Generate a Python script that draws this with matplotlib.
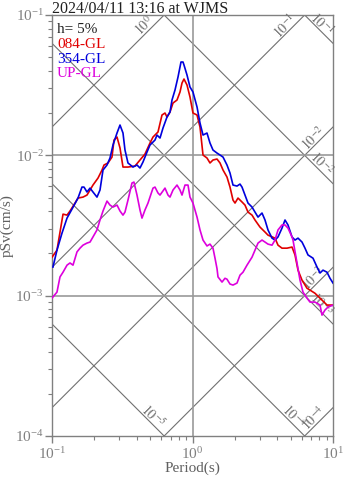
import numpy as np
import matplotlib
matplotlib.use("Agg")
import matplotlib.pyplot as plt
from matplotlib.ticker import LogLocator, NullFormatter

plt.rcParams['font.family'] = 'serif'
plt.rcParams['font.serif'] = ['Liberation Serif', 'DejaVu Serif']
plt.rcParams['mathtext.fontset'] = 'stix'

# pseudo velocity response, h = 5%
period_ew = [0.100, 0.1085, 0.1198, 0.1279, 0.1343, 0.1458, 0.1531, 0.1662, 0.1774, 0.1865,
             0.1957, 0.2126, 0.2270, 0.2345, 0.2503, 0.2673, 0.2762, 0.2902, 0.3048, 0.3201,
             0.3474, 0.3896, 0.4229, 0.4590, 0.4982, 0.5234, 0.5680, 0.6066, 0.6371, 0.6584,
             0.6916, 0.7265, 0.7757, 0.8148, 0.8420, 0.8699, 0.9139, 0.9598, 1.008, 1.077,
             1.131, 1.188, 1.268, 1.332, 1.399, 1.494, 1.570, 1.649, 1.760, 1.849,
             1.942, 2.007, 2.108, 2.251, 2.364, 2.483, 2.652, 2.785, 3.023, 3.281,
             3.446, 3.866, 4.060, 4.335, 4.706, 5.108, 5.365, 5.636, 6.018, 6.531,
             7.446, 8.350, 9.064, 10.0]
psv_ew = [0.00188, 0.00211, 0.00381, 0.00375, 0.00401, 0.00457, 0.00496, 0.00504, 0.00521, 0.00566,
          0.00614, 0.00689, 0.00786, 0.00853, 0.00882, 0.00972, 0.01285, 0.01350, 0.01128, 0.00825,
          0.00825, 0.00839, 0.00926, 0.01021, 0.01224, 0.01350, 0.01466, 0.01938, 0.02002, 0.01875,
          0.02035, 0.02359, 0.02478, 0.02826, 0.03275, 0.03497, 0.03170, 0.02603, 0.02002, 0.01938,
          0.01591, 0.01005, 0.00957, 0.00882, 0.00926, 0.00941, 0.00882, 0.00786, 0.00700, 0.00594,
          0.00480, 0.00457, 0.00496, 0.00465, 0.00442, 0.00394, 0.00375, 0.00346, 0.00308, 0.00284,
          0.00270, 0.00257, 0.00229, 0.00218, 0.00218, 0.00222, 0.00195, 0.00152, 0.00129, 0.00113,
          0.00104, 0.000930, 0.000857, 0.000857]

period_ns = [0.1016, 0.1085, 0.1178, 0.1279, 0.1388, 0.1531, 0.1634, 0.1690, 0.1774, 0.1865,
             0.1957, 0.2090, 0.2196, 0.2307, 0.2463, 0.2587, 0.2717, 0.2902, 0.3048, 0.3201,
             0.3307, 0.3474, 0.3771, 0.4027, 0.4229, 0.4442, 0.4744, 0.4982, 0.5408, 0.5589,
             0.5871, 0.6166, 0.6584, 0.6916, 0.7147, 0.7507, 0.7886, 0.8281, 0.8558, 0.8699,
             0.9139, 0.9598, 1.008, 1.077, 1.131, 1.188, 1.268, 1.332, 1.399, 1.494,
             1.570, 1.649, 1.760, 1.849, 1.942, 2.074, 2.178, 2.251, 2.364, 2.483,
             2.652, 2.785, 2.926, 3.124, 3.281, 3.446, 3.680, 3.866, 4.060, 4.335,
             4.554, 4.783, 5.108, 5.365, 5.636, 6.018, 6.320, 6.639, 7.206, 7.694,
             8.081, 8.488, 9.064, 9.521, 10.0]
psv_ns = [0.00160, 0.00211, 0.00279, 0.00357, 0.00414, 0.00496, 0.00594, 0.00594, 0.00548, 0.00584,
          0.00548, 0.00504, 0.00566, 0.00786, 0.00853, 0.00957, 0.01184, 0.01442, 0.01644, 0.01442,
          0.01091, 0.00882, 0.00825, 0.00853, 0.00812, 0.00896, 0.01055, 0.01184, 0.01285, 0.01395,
          0.01328, 0.01565, 0.01875, 0.02035, 0.02478, 0.02920, 0.03614, 0.04624, 0.04624, 0.04400,
          0.03736, 0.03068, 0.02826, 0.02210, 0.01699, 0.01395, 0.01442, 0.01224, 0.01091, 0.01038,
          0.01005, 0.00972, 0.00853, 0.00748, 0.00614, 0.00604, 0.00624, 0.00594, 0.00521, 0.00457,
          0.00428, 0.00394, 0.00363, 0.00388, 0.00346, 0.00294, 0.00257, 0.00249, 0.00262, 0.00303,
          0.00346, 0.00319, 0.00262, 0.00249, 0.00257, 0.00241, 0.00218, 0.00195, 0.00185, 0.00160,
          0.00145, 0.00152, 0.00147, 0.00133, 0.00123]

period_ud = [0.100, 0.1085, 0.1140, 0.1198, 0.1279, 0.1343, 0.1411, 0.1506, 0.1582, 0.1662,
             0.1774, 0.1865, 0.1957, 0.2090, 0.2196, 0.2307, 0.2463, 0.2587, 0.2717, 0.2902,
             0.3048, 0.3201, 0.3307, 0.3474, 0.3709, 0.3830, 0.4027, 0.4229, 0.4370, 0.4590,
             0.4822, 0.5234, 0.5408, 0.5680, 0.5871, 0.6371, 0.6693, 0.6916, 0.7265, 0.7757,
             0.8148, 0.8420, 0.8843, 0.9289, 0.9598, 1.008, 1.077, 1.131, 1.188, 1.268,
             1.332, 1.399, 1.446, 1.494, 1.519, 1.622, 1.703, 1.760, 1.849, 1.942,
             2.074, 2.178, 2.288, 2.443, 2.652, 2.785, 2.926, 3.124, 3.281, 3.446,
             3.680, 3.866, 4.060, 4.335, 4.554, 4.783, 5.108, 5.192, 5.544, 5.824,
             6.116, 6.531, 6.860, 7.446, 8.081, 8.350, 8.771, 9.214, 10.0]
psv_ud = [0.000961, 0.00106, 0.00136, 0.00147, 0.00165, 0.00171, 0.00165, 0.00205, 0.00218, 0.00229,
          0.00237, 0.00241, 0.00262, 0.00294, 0.00346, 0.00401, 0.00472, 0.00442, 0.00428, 0.00442,
          0.00401, 0.00375, 0.00394, 0.00480, 0.00635, 0.00645, 0.00521, 0.00408, 0.00357, 0.00408,
          0.00457, 0.00584, 0.00594, 0.00539, 0.00521, 0.00584, 0.00521, 0.00504, 0.00566, 0.00614,
          0.00566, 0.00521, 0.00614, 0.00614, 0.00504, 0.00457, 0.00363, 0.00294, 0.00249, 0.00226,
          0.00233, 0.00218, 0.00185, 0.00156, 0.00136, 0.00125, 0.00133, 0.00131, 0.00121, 0.00119,
          0.00123, 0.00140, 0.00147, 0.00165, 0.00188, 0.00211, 0.00237, 0.00249, 0.00241, 0.00233,
          0.00229, 0.00249, 0.00294, 0.00319, 0.00319, 0.00303, 0.00262, 0.00249, 0.00171, 0.00129,
          0.00106, 0.000961, 0.000900, 0.000900, 0.000857, 0.000727, 0.000790, 0.000829, 0.000857]

components = ["084-GL", "354-GL", "UP-GL"]
colors = ["#e00000", "#0000dd", "#dd00dd"]

# tripartite guide lines: acceleration (cm/s^2) and displacement (cm)
acc_levels = [1e0, 1e-1, 1e-2, 1e-3, 1e-4]
disp_levels = [1e-1, 1e-2, 1e-3, 1e-4, 1e-5]

tmin, tmax = 0.1, 10.0
vmin, vmax = 1e-4, 1e-1
grey = "#808080"

fig = plt.figure(figsize=(3.47, 4.78), dpi=100)
ax = fig.add_axes([52 / 347, 1 - 436 / 478, 281 / 347, 421 / 478])
ax.set_xscale("log")
ax.set_yscale("log")
ax.set_xlim(tmin, tmax)
ax.set_ylim(vmin, vmax)

tt = np.logspace(-1, 1, 50)
for a in acc_levels:
    ax.plot(tt, a * tt / (2 * np.pi), color="#707070", lw=0.8, zorder=1)
    if a * tmax / (2 * np.pi) <= vmax:
        xe, ye = tmax, a * tmax / (2 * np.pi)
    else:
        xe, ye = vmax * 2 * np.pi / a, vmax
    ax.annotate(r"$10^{%d}$" % round(np.log10(a)), xy=(xe, ye), xytext=(-14, -8),
                textcoords="offset points", rotation=45, ha="center", va="center",
                fontsize=10, color="#707070", annotation_clip=False)
for d in disp_levels:
    ax.plot(tt, 2 * np.pi * d / tt, color="#707070", lw=0.8, zorder=1)
    if 2 * np.pi * d / tmax >= vmin:
        xe, ye = tmax, 2 * np.pi * d / tmax
    else:
        xe, ye = 2 * np.pi * d / vmin, vmin
    ax.annotate(r"$10^{%d}$" % round(np.log10(d)), xy=(xe, ye), xytext=(-8, 14),
                textcoords="offset points", rotation=-45, ha="center", va="center",
                fontsize=10, color="#707070", annotation_clip=False)

ax.axvline(1.0, color="#999999", lw=1.2, zorder=1)
for v in [1e-2, 1e-3]:
    ax.axhline(v, color="#999999", lw=1.2, zorder=1)

for per, psv, c in zip([period_ew, period_ns, period_ud], [psv_ew, psv_ns, psv_ud], colors):
    ax.plot(per, psv, color=c, lw=1.2, zorder=3)

ax.xaxis.set_major_locator(LogLocator(base=10, numticks=10))
ax.yaxis.set_major_locator(LogLocator(base=10, numticks=10))
ax.xaxis.set_minor_locator(LogLocator(base=10, subs=np.arange(2, 10), numticks=10))
ax.yaxis.set_minor_locator(LogLocator(base=10, subs=np.arange(2, 10), numticks=10))
ax.xaxis.set_minor_formatter(NullFormatter())
ax.yaxis.set_minor_formatter(NullFormatter())
ax.tick_params(which="major", length=5, width=1, color=grey, labelcolor=grey, labelsize=11)
ax.tick_params(which="minor", length=3, width=0.8, color=grey)
ax.tick_params(axis="x", which="major", pad=2)
ax.tick_params(axis="y", which="major", pad=1)
for s in ax.spines.values():
    s.set_color(grey)
    s.set_linewidth(1.0)

ax.set_xlabel("Period(s)", color="#606060", fontsize=11, labelpad=0)
ax.set_ylabel("pSv(cm/s)", color="#606060", fontsize=11, labelpad=1)

ax.text(0.0, 1 + 2 / 421, "2024/04/11 13:16 at WJMS", transform=ax.transAxes,
        ha="left", va="baseline", fontsize=11.5, color="#202020")

ax.text(5 / 281, (436 - 33) / 421, "h= 5%", transform=ax.transAxes, ha="left",
        va="baseline", fontsize=11, color="#202020")
for i, (name, c) in enumerate(zip(components, colors)):
    ax.text(5 / 281, (436 - 48 - 14.7 * i) / 421, name, transform=ax.transAxes,
            ha="left", va="baseline", fontsize=11, color=c)

fig.savefig("out.png", dpi=100)
